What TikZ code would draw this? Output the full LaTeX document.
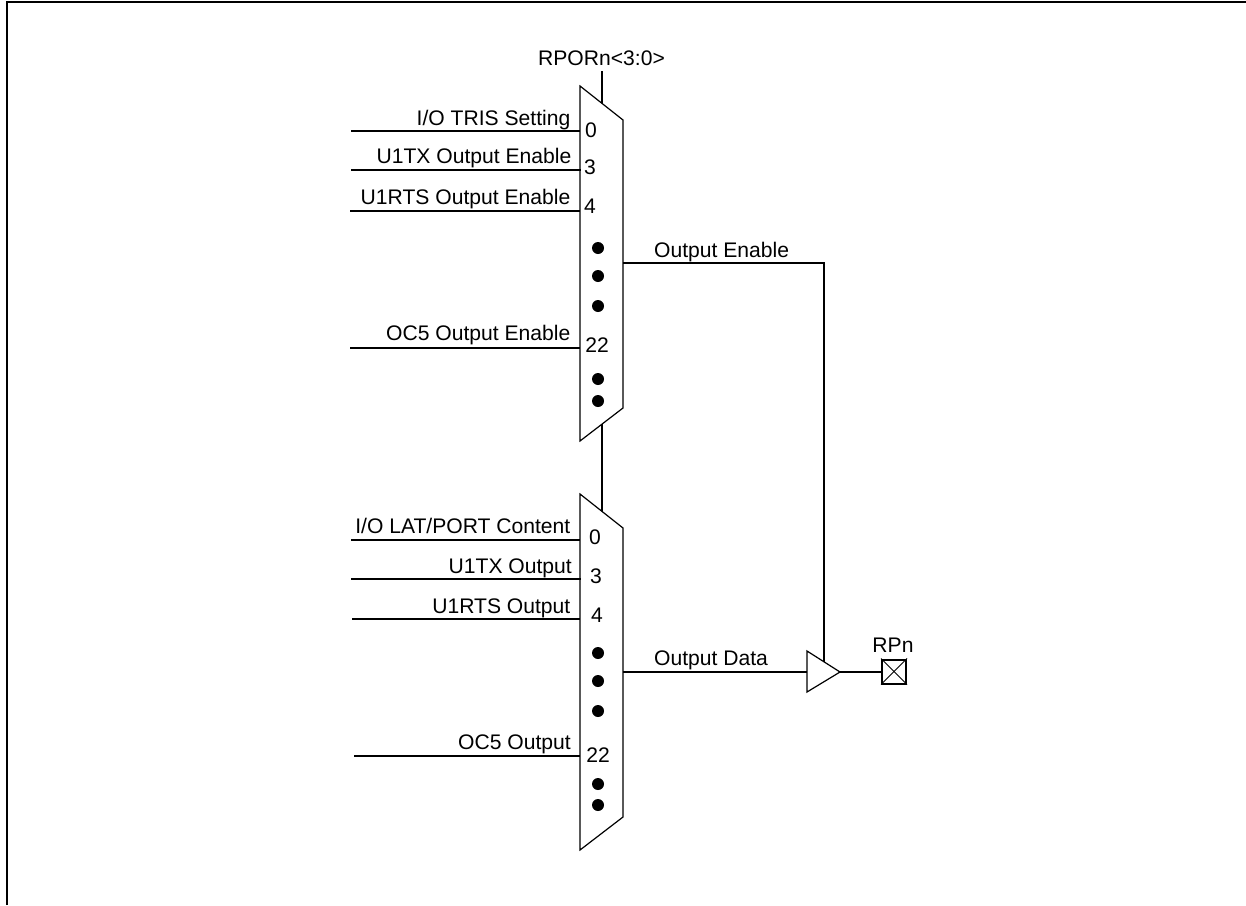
\documentclass[tikz,border=0pt]{standalone}
\usepackage{fontspec}
\setmainfont{Liberation Sans}
\tikzset{
  wire/.style={draw=black,line width=2pt},
  muxbody/.style={draw=black,line width=1.2pt,line join=miter,fill=white},
  lbl/.style={inner sep=0pt,anchor=base east,font=\fontsize{21.1}{24}\selectfont},
  lblw/.style={inner sep=0pt,anchor=base west,font=\fontsize{21.1}{24}\selectfont},
  num/.style={inner sep=0pt,anchor=base,font=\fontsize{21.1}{24}\selectfont},
  dotmark/.style={circle,fill=black,inner sep=0pt,minimum size=12pt},
}
\begin{document}
\begin{tikzpicture}[x=1pt,y=-1pt]
\useasboundingbox (0,0) rectangle (1246,905);
% frame
\draw[line width=2pt] (7,905) -- (7,2) -- (1246,2);

% mux shapes
\draw[muxbody] (580,86) coordinate (ma) -- (623,120) coordinate (mb) -- (623,408) coordinate (mc) -- (580,441) coordinate (md) -- cycle;
\draw[muxbody] (580,494) coordinate (na) -- (623,528) coordinate (nb) -- (623,817) coordinate (nc) -- (580,850) coordinate (nd) -- cycle;

% select lines
\coordinate (sel) at (601.5,71);
\coordinate (seltop) at (601.5,103);
\coordinate (m1bot) at (601.5,424);
\coordinate (m2top) at (601.5,511);
\draw[wire] (sel) -- (seltop);
\draw[wire] (m1bot) -- (m2top);

% input wires
\foreach \nm/\xa/\y/\xb in {a/351/131/580,b/351/170/581,c/350/211/580,d/350/348/580,e/351/540/580,f/351/579/581,g/352/619/580,h/354/756/580}{
  \coordinate (in\nm) at (\xa,\y);
  \coordinate (to\nm) at (\xb,\y);
  \draw[wire] (in\nm) -- (to\nm);
}

% labels
\node[lbl] (la) at (570.5,125) {I/O TRIS Setting};
\node[lbl] (lb) at (571.5,163) {U1TX Output Enable};
\node[lbl] (lc) at (570.5,204) {U1RTS Output Enable};
\node[lbl] (ld) at (570.5,340) {OC5 Output Enable};
\node[lbl] (le) at (570.5,533) {I/O LAT/PORT Content};
\node[lbl] (lf) at (572,573) {U1TX Output};
\node[lbl] (lg) at (570.5,613) {U1RTS Output};
\node[lbl] (lh) at (571,749) {OC5 Output};
\node[num] (top) at (601.5,65) {RPORn<3:0>};
\node[lblw] (oe) at (654,257.5) {Output Enable};
\node[lblw] (od) at (654,665.5) {Output Data};
\node[num] (rp) at (893,652) {RPn};

% numbers
\node[num] (n1) at (591,137) {0};
\node[num] (n2) at (590,174) {3};
\node[num] (n3) at (590,213) {4};
\node[num] (n4) at (597,352) {22};
\node[num] (n5) at (595,544) {0};
\node[num] (n6) at (596,583) {3};
\node[num] (n7) at (597,622) {4};
\node[num] (n8) at (598,762) {22};

% dots
\foreach \i/\y in {1/248,2/276,3/306,4/379,5/401}{ \node[dotmark] (da\i) at (598,\y) {}; }
\foreach \i/\y in {1/653,2/681,3/711,4/784,5/805}{ \node[dotmark] (db\i) at (598,\y) {}; }

% buffer
\draw[line width=1.2pt,line join=miter] (807,651) coordinate (ta) -- (840,672) coordinate (tip) -- (807,692) coordinate (tb) -- cycle;
\coordinate (tin) at (807,672);
\coordinate (ten) at (823.5,662);
\coordinate (muxoe) at (623,263);
\coordinate (muxod) at (623,672);
\draw[wire] (muxoe) -| (ten);
\draw[wire] (muxod) -- (tin);

% pad
\node[draw=black,line width=2pt,minimum size=24pt,inner sep=0pt] (pad) at (894,671.5) {};
\draw[line width=1pt] (pad.north west) -- (pad.south east);
\draw[line width=1pt] (pad.south west) -- (pad.north east);
\draw[wire] (tip) -- (pad.west |- tip);
\end{tikzpicture}
\end{document}
